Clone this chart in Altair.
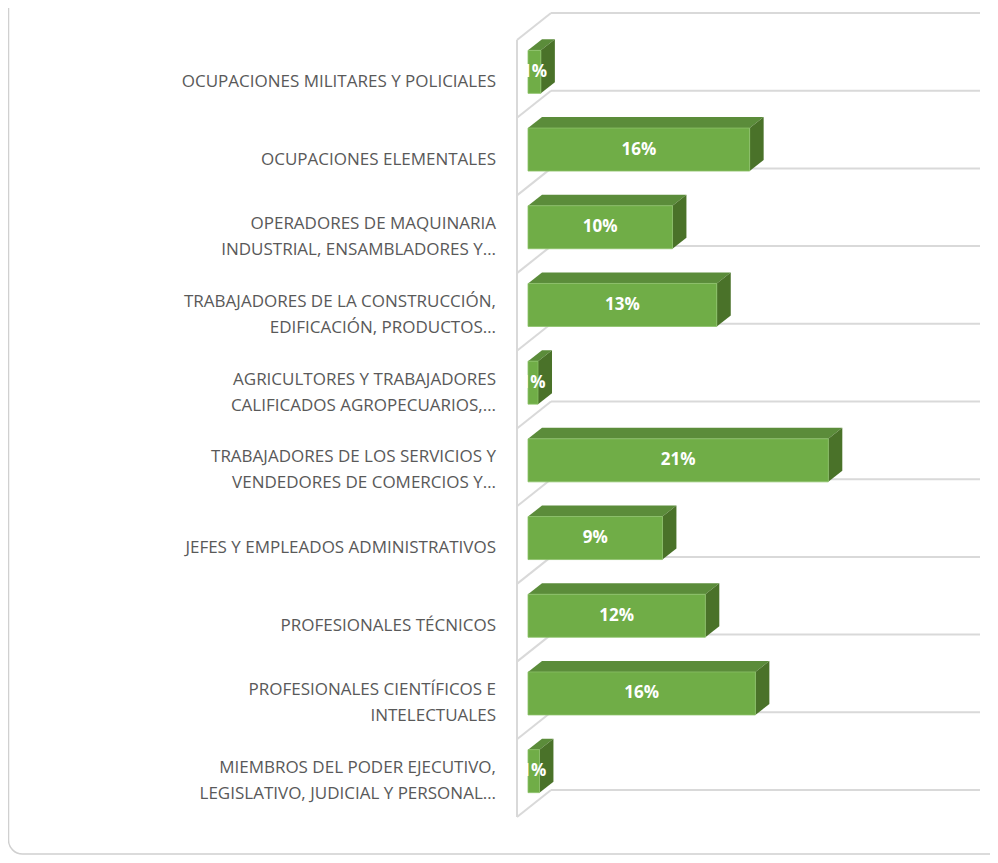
import altair as alt
import pandas as pd

# ---------------- data ----------------
categories = [
    "OCUPACIONES MILITARES Y POLICIALES",
    "OCUPACIONES ELEMENTALES",
    "OPERADORES DE MAQUINARIA\nINDUSTRIAL, ENSAMBLADORES Y…",
    "TRABAJADORES DE LA CONSTRUCCIÓN,\nEDIFICACIÓN, PRODUCTOS…",
    "AGRICULTORES Y TRABAJADORES\nCALIFICADOS AGROPECUARIOS,…",
    "TRABAJADORES DE LOS SERVICIOS Y\nVENDEDORES DE COMERCIOS Y…",
    "JEFES Y EMPLEADOS ADMINISTRATIVOS",
    "PROFESIONALES TÉCNICOS",
    "PROFESIONALES CIENTÍFICOS E\nINTELECTUALES",
    "MIEMBROS DEL PODER EJECUTIVO,\nLEGISLATIVO, JUDICIAL Y PERSONAL…",
]
values = [0.9, 15.5, 10.1, 13.2, 0.7, 21.0, 9.4, 12.4, 15.9, 0.8]  # percent
axis_max = 30

# ---------------- layout / style constants (pixels) ----------------
W, H = 982, 847
PX_PCT = 14.3        # pixels per percent
PX_ROW = 77.7        # pixels per category band
X0_FRONT = 520       # chart x of the bars' front zero
Y_TOP = 5            # chart y of first back gridline
BACK_DX = 23         # back plane offset from bar front (px)
WALL_DX, WALL_DY = 34, 27
BAR_DX, BAR_DY = 14, 11
BAR_YOFF, BAR_HALF = 20, 21.5
LABEL_YOFF = 30
LABEL_GAP = 21
LINE_H = 26

GRID = "#d9d9d9"
FRONT = "#70AD47"
TOP = "#5B8C3A"
SIDE = "#4A7229"

n = len(categories)
px = lambda p: p / PX_PCT
py = lambda p: p / PX_ROW

xs = alt.Scale(domain=[-X0_FRONT / PX_PCT, (W - X0_FRONT) / PX_PCT], nice=False, zero=False)
ys = alt.Scale(domain=[-Y_TOP / PX_ROW, (H - Y_TOP) / PX_ROW], nice=False, zero=False, reverse=True)

back_x = px(BACK_DX)
wall_x = back_x - px(WALL_DX)

# gridlines on back wall
grid_df = pd.DataFrame({"y": list(range(n + 1))})
grid_df["x"] = back_x
grid_df["x2"] = back_x + axis_max
# diagonal connectors to front of wall
diag_df = grid_df.copy()
diag_df["x"] = back_x
diag_df["x2"] = wall_x
diag_df["y2"] = diag_df["y"] + py(WALL_DY)
wall_df = pd.DataFrame({"x": [wall_x], "y": [py(WALL_DY)], "y2": [n + py(WALL_DY)]})

rows = list(range(n))
yc = [i + 0.5 + py(BAR_YOFF) for i in rows]
front_df = pd.DataFrame({
    "row": rows, "v": values,
    "x": 0.0, "x2": values,
    "y": [c - py(BAR_HALF) for c in yc],
    "y2": [c + py(BAR_HALF) for c in yc],
    "xc": [v / 2 for v in values], "yc": yc,
})
front_df["label"] = front_df["v"].round().astype(int).astype(str) + "%"

top_recs, side_recs = [], []
for i, v, c in zip(rows, values, yc):
    t = c - py(BAR_HALF)
    b = c + py(BAR_HALF)
    top_recs.append({"row": i, "y": t, "x": 0.0, "x2": v})
    top_recs.append({"row": i, "y": t - py(BAR_DY), "x": px(BAR_DX), "x2": v + px(BAR_DX)})
    side_recs.append({"row": i, "x": v, "y": t, "y2": b})
    side_recs.append({"row": i, "x": v + px(BAR_DX), "y": t - py(BAR_DY), "y2": b - py(BAR_DY)})
top_df = pd.DataFrame(top_recs)
side_df = pd.DataFrame(side_recs)

nlines = [c.count("\n") + 1 for c in categories]
label_df = pd.DataFrame({
    "label": categories,
    "x": wall_x - px(LABEL_GAP),
    "y": [i + 0.5 + py(LABEL_YOFF) - py((k - 1) * LINE_H / 2) for i, k in zip(rows, nlines)],
})

X = lambda f, **k: alt.X(f, scale=xs, axis=None, **k)
Y = lambda f, **k: alt.Y(f, scale=ys, axis=None, **k)

frame = alt.Chart(pd.DataFrame({"a": [0]})).mark_rect(
    fill="white", stroke="#d0d0d0", strokeWidth=1.5, cornerRadius=14
).encode(x=alt.value(0.5), x2=alt.value(W + 40), y=alt.value(-40), y2=alt.value(H - 1))

grid = alt.Chart(grid_df).mark_rule(color=GRID, strokeWidth=2).encode(
    x=X("x:Q"), x2="x2:Q", y=Y("y:Q"))
diag = alt.Chart(diag_df).mark_rule(color=GRID, strokeWidth=2).encode(
    x=X("x:Q"), x2="x2:Q", y=Y("y:Q"), y2="y2:Q")
wall = alt.Chart(wall_df).mark_rule(color=GRID, strokeWidth=2).encode(
    x=X("x:Q"), y=Y("y:Q"), y2="y2:Q")

top = alt.Chart(top_df).mark_area(orient="horizontal", color=TOP).encode(
    y=Y("y:Q"), x=X("x:Q", stack=None), x2="x2:Q", detail="row:N")
side = alt.Chart(side_df).mark_area(orient="vertical", color=SIDE).encode(
    x=X("x:Q"), y=Y("y:Q", stack=None), y2="y2:Q", detail="row:N")
front = alt.Chart(front_df).mark_rect(color=FRONT, stroke="#8CC168", strokeWidth=0.8).encode(
    x=X("x:Q"), x2="x2:Q", y=Y("y:Q"), y2="y2:Q")
vlabels = alt.Chart(front_df).mark_text(
    color="white", fontSize=17, fontWeight="bold", font="Open Sans", baseline="middle"
).encode(x=X("xc:Q"), y=Y("yc:Q"), text="label:N")

cat_labels = alt.Chart(label_df).transform_calculate(
    lines="split(datum.label, '\\n')"
).mark_text(
    align="right", baseline="middle", fontSize=17, font="Open Sans",
    color="#595959", lineHeight=LINE_H
).encode(x=X("x:Q"), y=Y("y:Q"), text="lines:N")

chart = alt.layer(frame, grid, diag, wall, top, side, front, vlabels, cat_labels).properties(
    width=W, height=H, autosize=alt.AutoSizeParams(type="none"), padding=0,
    background="white",
).configure_view(stroke=None)

chart.save("out.html", embed_options={"renderer": "svg", "actions": False})
